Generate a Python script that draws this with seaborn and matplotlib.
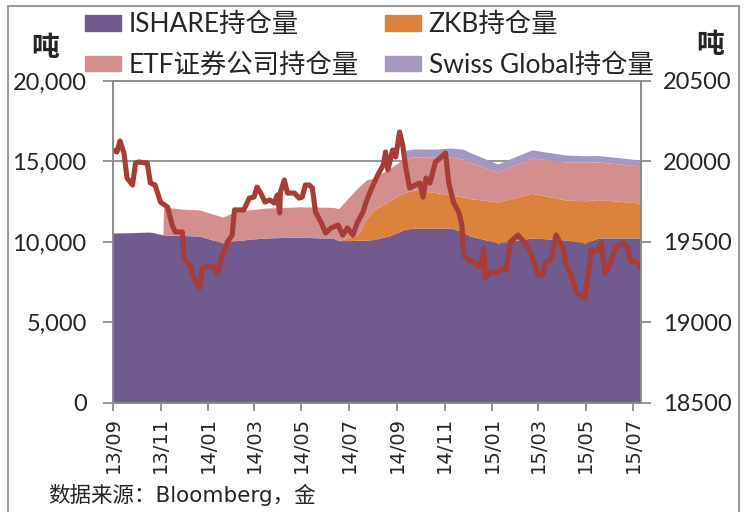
import matplotlib
matplotlib.use("Agg")
import matplotlib.pyplot as plt
import matplotlib.dates as mdates
import matplotlib.ticker as mticker
from matplotlib.patches import Rectangle, Patch
import pandas as pd
import seaborn as sns

# ETF holdings (tonnes)
hold_dates = ["2013-09-01", "2013-09-25", "2013-10-18", "2013-11-04", "2013-11-05", "2013-12-01",
              "2013-12-21", "2014-01-20", "2014-02-02", "2014-02-25", "2014-03-17", "2014-04-28",
              "2014-05-20", "2014-06-10", "2014-06-18", "2014-06-30", "2014-07-12", "2014-07-24",
              "2014-08-01", "2014-08-23", "2014-09-11", "2014-09-12", "2014-09-22", "2014-10-20",
              "2014-11-08", "2014-11-25", "2014-12-02", "2015-01-08", "2015-02-21", "2015-04-06",
              "2015-04-30", "2015-05-17", "2015-07-11"]
ishare = [10560, 10580, 10620, 10450, 10440, 10400, 10370, 9940, 10060, 10180, 10250, 10310,
          10260, 10250, 10080, 10080, 10110, 10124, 10150, 10400, 10800, 10800, 10870, 10870,
          10870, 10620, 10400, 9940, 10250, 10124, 9940, 10250, 10250]
zkb = [0, 0, 0, 0, 0, 0, 0, 0, 0, 0, 0, 0,
       0, 0, 0, 200, 320, 1350, 1800, 2200, 2300, 2300, 2360, 2200,
       2050, 2170, 2300, 2550, 2780, 2480, 2620, 2380, 2170]
etf = [0, 0, 0, 0, 1730, 1640, 1620, 1610, 1760, 1830, 1860, 1870,
       1910, 1900, 2000, 2450, 2920, 2400, 2000, 2000, 2100, 2100, 2050, 2200,
       2360, 2350, 2270, 1860, 2190, 2360, 2400, 2340, 2300]
swiss = [0, 0, 0, 0, 0, 0, 0, 0, 0, 0, 0, 0,
         0, 0, 0, 0, 0, 0, 0, 0, 0, 500, 500, 500,
         560, 620, 620, 500, 500, 435, 400, 400, 370]
series_labels = ["ISHARE持仓量", "ZKB持仓量", "ETF证券公司持仓量", "Swiss Global持仓量"]

# line on the right axis
line_dates = ["2013-09-01", "2013-09-06", "2013-09-10", "2013-09-15", "2013-09-19", "2013-09-26",
              "2013-09-30", "2013-10-04", "2013-10-15", "2013-10-19", "2013-10-25", "2013-11-01",
              "2013-11-10", "2013-11-16", "2013-11-20", "2013-11-29", "2013-12-01", "2013-12-09",
              "2013-12-14", "2013-12-21", "2013-12-25", "2013-12-31", "2014-01-09", "2014-01-13",
              "2014-01-19", "2014-01-22", "2014-01-26", "2014-02-01", "2014-02-04", "2014-02-10",
              "2014-02-16", "2014-02-23", "2014-03-01", "2014-03-05", "2014-03-11", "2014-03-15",
              "2014-03-21", "2014-03-27", "2014-03-31", "2014-04-03", "2014-04-04", "2014-04-09",
              "2014-04-13", "2014-04-22", "2014-04-28", "2014-05-02", "2014-05-06", "2014-05-11",
              "2014-05-15", "2014-05-19", "2014-05-26", "2014-06-01", "2014-06-08", "2014-06-17",
              "2014-06-23", "2014-06-29", "2014-07-06", "2014-07-12", "2014-07-19", "2014-07-23",
              "2014-07-28", "2014-08-01", "2014-08-07", "2014-08-14", "2014-08-17", "2014-08-20",
              "2014-08-26", "2014-08-30", "2014-09-04", "2014-09-08", "2014-09-12", "2014-09-17",
              "2014-09-24", "2014-09-30", "2014-10-04", "2014-10-08", "2014-10-13", "2014-10-20",
              "2014-10-26", "2014-11-02", "2014-11-06", "2014-11-12", "2014-11-19", "2014-11-23",
              "2014-11-25", "2014-12-02", "2014-12-11", "2014-12-17", "2014-12-21", "2014-12-23",
              "2014-12-30", "2015-01-06", "2015-01-15", "2015-01-19", "2015-01-24", "2015-02-03",
              "2015-02-12", "2015-02-19", "2015-02-25", "2015-03-01", "2015-03-07", "2015-03-10",
              "2015-03-17", "2015-03-24", "2015-03-29", "2015-04-02", "2015-04-06", "2015-04-12",
              "2015-04-19", "2015-04-25", "2015-04-30", "2015-05-08", "2015-05-17", "2015-05-21",
              "2015-05-26", "2015-06-01", "2015-06-08", "2015-06-18", "2015-06-24", "2015-06-28",
              "2015-07-07", "2015-07-11"]
line_vals = [20071, 20059, 20127, 20053, 19897, 19854, 19990, 19997, 19990, 19866,
             19854, 19748, 19717, 19605, 19562, 19562, 19400, 19357, 19276, 19214,
             19338, 19345, 19345, 19307, 19407, 19450, 19500, 19543, 19699, 19699,
             19699, 19773, 19779, 19841, 19792, 19748, 19761, 19742, 19792, 19680,
             19810, 19885, 19804, 19804, 19773, 19779, 19854, 19854, 19835, 19686,
             19624, 19556, 19587, 19605, 19543, 19587, 19543, 19624, 19686, 19748,
             19810, 19854, 19916, 19978, 20059, 19947, 20071, 20028, 20183, 20102,
             19959, 19835, 19854, 19866, 19779, 19897, 19866, 19997, 20021, 20053,
             19872, 19748, 19686, 19605, 19419, 19388, 19369, 19345, 19463, 19276,
             19314, 19307, 19338, 19326, 19500, 19543, 19494, 19438, 19357, 19295,
             19295, 19369, 19388, 19543, 19494, 19463, 19357, 19295, 19189, 19158,
             19152, 19450, 19450, 19494, 19307, 19357, 19463, 19494, 19463, 19382,
             19369, 19338]

sns.set_style("white")
plt.rcParams['font.family'] = ['Lato', 'Noto Sans CJK SC', 'DejaVu Sans']

hd = pd.to_datetime(hold_dates)
line_df = pd.DataFrame({"date": pd.to_datetime(line_dates), "val": line_vals})

colors = ["#705a8e", "#db833b", "#d38f8d", "#a598c0"]
grey = "#8c8c8c"

fig = plt.figure(figsize=(7.45, 5.12), dpi=100)
ax = fig.add_axes([0.1517, 0.2129, 0.7087, 0.6289])
ax.stackplot(hd, ishare, zkb, etf, swiss, colors=colors, linewidth=0)
ax.set_ylim(0, 20000)
ax.set_xlim(pd.Timestamp("2013-09-01"), pd.Timestamp("2015-07-11"))
ax.yaxis.set_major_locator(mticker.MultipleLocator(5000))
ax.yaxis.set_major_formatter(mticker.StrMethodFormatter("{x:,.0f}"))
ax.grid(axis='y', color=grey, lw=1.3)
ax.grid(axis='x', visible=False)
ax.set_axisbelow(True)
ax.xaxis.set_major_locator(mdates.MonthLocator(bymonth=[1, 3, 5, 7, 9, 11]))
ax.xaxis.set_major_formatter(mdates.DateFormatter("%y/%m"))
ax.tick_params(axis='y', which='major', direction='out', length=7, width=1.3, color=grey,
               labelsize=17, pad=12, left=True)
ax.tick_params(axis='x', which='major', direction='out', length=6, width=1.3, color=grey,
               labelsize=14, pad=4, bottom=True, labelrotation=90)
for lab in ax.get_xticklabels():
    lab.set_family('DejaVu Sans')
for sp in ax.spines.values():
    sp.set_color(grey)
    sp.set_linewidth(1.3)

ax2 = ax.twinx()
sns.lineplot(data=line_df, x="date", y="val", ax=ax2, color="#a83c37", lw=3.7)
ax2.set_ylim(18500, 20500)
ax2.yaxis.set_major_locator(mticker.MultipleLocator(500))
ax2.set_xlabel("")
ax2.set_ylabel("")
ax2.tick_params(axis='y', direction='out', length=7, width=1.3, color=grey, labelsize=17,
                pad=9, right=True)
for sp in ax2.spines.values():
    sp.set_color(grey)
    sp.set_linewidth(1.3)
ax.set_xlabel("")
ax.set_ylabel("")

handles = [Patch(color=colors[0]), Patch(color=colors[2]), Patch(color=colors[1]), Patch(color=colors[3])]
labels = [series_labels[0], series_labels[2], series_labels[1], series_labels[3]]
fig.legend(handles, labels, ncol=2, loc='upper left', bbox_to_anchor=(85 / 745, 1 - 12 / 512),
           frameon=False, fontsize=19, handlelength=1.35, handleheight=0.55, handletextpad=0.3,
           columnspacing=1.0, labelspacing=0.6, borderpad=0, borderaxespad=0)

fig.text(45 / 745, 1 - 48 / 512, "吨", ha='center', va='center', fontsize=20, fontweight='bold',
         family=['Noto Sans CJK SC'])
fig.text(710 / 745, 1 - 45 / 512, "吨", ha='center', va='center', fontsize=20, fontweight='bold',
         family=['Noto Sans CJK SC'])
fig.text(48 / 745, 1 - 484 / 512, "数据来源：Bloomberg，金", ha='left', va='top', fontsize=15.5,
         family=['DejaVu Sans', 'Noto Sans CJK SC'])

fig.add_artist(Rectangle((8 / 745, -0.1), (739 - 8) / 745, 1.1 - 6 / 512, transform=fig.transFigure,
                         fill=False, edgecolor="#9a9a9a", lw=1.5, clip_on=False))

fig.savefig("out.png", dpi=100)
